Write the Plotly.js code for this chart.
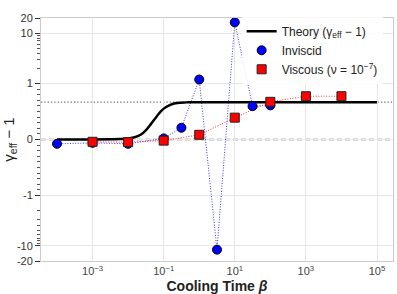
<!DOCTYPE html>
<html>
<head>
<meta charset="utf-8">
<script src="https://cdn.plot.ly/plotly-3.0.1.min.js"></script>
<style>html,body{margin:0;padding:0;background:#fff;}#chart{width:397px;height:294px;}</style>
</head>
<body>
<div id="chart"></div>
<script>
// ---- data ----
const theoryBeta = [1e-4, 1e-3, 3e-3, 0.006, 0.01, 0.016, 0.0225, 0.031, 0.043, 0.06, 0.082, 0.114, 0.176, 0.3, 0.5, 1, 10, 100, 1e3, 1e4, 1e5];
const theoryVal  = [0, 0.001, 0.004, 0.008, 0.02, 0.045, 0.085, 0.16, 0.27, 0.39, 0.50, 0.575, 0.635, 0.658, 0.664, 0.666, 0.667, 0.667, 0.667, 0.667, 0.667];

const inviscidBeta = [1e-4, 1e-3, 1e-2, 1e-1, 0.316, 1, 3.16, 10, 31.6, 100];
const inviscidVal  = [-0.077, -0.06, -0.077, 0.02, 0.21, 1.2, -11.9, 16.4, 0.595, 0.61];

const viscousBeta = [1e-3, 1e-2, 1e-1, 1, 10, 100, 1000, 10000];
const viscousVal  = [-0.041, -0.048, -0.02, 0.084, 0.39, 0.673, 0.773, 0.773];

const asymptote = 0.667;
const yTickValues = [20, 10, 1, 0, -1, -10, -20];
const yTickLabels = ["20", "10", "1", "0", "-1", "-10", "-20"];
const xTickValues = [1e-3, 1e-1, 1e1, 1e3, 1e5];
const xTickLabels = ["10<sup>\u22123</sup>", "10<sup>\u22121</sup>", "10<sup>1</sup>", "10<sup>3</sup>", "10<sup>5</sup>"];

// symlog (linthresh = 1, linscale = 1) like matplotlib
const K = 1 / (1 - 1 / 10);
function symlog(v) {
  const a = Math.abs(v);
  if (a <= 1) return v * K;
  return Math.sign(v) * (K + Math.log10(a));
}
const minorVals = [];
for (let m = 1; m <= 9; m++) { minorVals.push(symlog(m / 10)); minorVals.push(symlog(-m / 10)); }
for (let m = 2; m <= 9; m++) { minorVals.push(symlog(m)); minorVals.push(symlog(-m)); }

const traces = [
  {
    x: inviscidBeta, y: inviscidVal.map(symlog), type: 'scatter', mode: 'lines',
    showlegend: false, hoverinfo: 'skip',
    line: {color: 'rgba(0,0,255,0.8)', width: 1, dash: '1px,1.6px'}
  },
  {
    x: viscousBeta, y: viscousVal.map(symlog), type: 'scatter', mode: 'lines',
    showlegend: false, hoverinfo: 'skip',
    line: {color: 'rgba(255,0,0,0.8)', width: 1, dash: '1px,1.6px'}
  },
  {
    x: theoryBeta, y: theoryVal.map(symlog), type: 'scatter', mode: 'lines',
    name: 'Theory (\u03b3<sub>eff</sub> \u2212 1)',
    line: {color: '#000', width: 2.5, shape: 'spline', smoothing: 1}
  },
  {
    x: inviscidBeta, y: inviscidVal.map(symlog), type: 'scatter', mode: 'markers',
    name: 'Inviscid',
    marker: {symbol: 'circle', size: 9, color: '#0000ff', line: {color: '#000', width: 1}}
  },
  {
    x: viscousBeta, y: viscousVal.map(symlog), type: 'scatter', mode: 'markers',
    name: 'Viscous (\u03bd = 10<sup>\u22127</sup>)',
    marker: {symbol: 'square', size: 9, color: '#ff0000', line: {color: '#222', width: 1}}
  }
];

const yTop = symlog(20);
const layout = {
  width: 397, height: 294,
  margin: {l: 41, r: 4, t: 18, b: 33},
  paper_bgcolor: '#fff', plot_bgcolor: '#fff',
  font: {family: 'Liberation Sans, Arial, sans-serif', size: 11, color: '#333'},
  showlegend: true,
  legend: {
    x: 0.57, y: 1.005, xanchor: 'left', yanchor: 'top',
    bgcolor: 'rgba(255,255,255,0.85)', borderwidth: 0,
    font: {size: 12, color: '#222'}, tracegroupgap: 0
  },
  xaxis: {
    type: 'log', range: [-4.45, 5.45],
    tickmode: 'array', tickvals: xTickValues, ticktext: xTickLabels,
    ticks: '', showgrid: true, gridcolor: '#e6e6e6', gridwidth: 1,
    showline: true, linecolor: '#cccccc', linewidth: 1, mirror: true,
    zeroline: false, tickfont: {size: 11, color: '#444'},
    title: {text: 'Cooling Time <i>\u03b2</i>', font: {size: 14, color: '#222', weight: 'bold'}, standoff: 4}
  },
  yaxis: {
    range: [-yTop, yTop],
    tickmode: 'array', tickvals: yTickValues.map(symlog), ticktext: yTickLabels,
    ticks: 'outside', ticklen: 5, tickwidth: 1, tickcolor: '#333',
    showgrid: true, gridcolor: '#e6e6e6', gridwidth: 1,
    showline: true, linecolor: '#cccccc', linewidth: 1, mirror: true,
    zeroline: false, tickfont: {size: 11, color: '#333'},
    minor: {tickmode: 'array', tickvals: minorVals, ticks: 'outside', ticklen: 3, tickwidth: 1, tickcolor: '#555', showgrid: false},
    title: {text: '\u03b3<sub>eff</sub> \u2212 1', font: {size: 15, color: '#222'}, standoff: 4}
  },
  shapes: [
    {type: 'line', xref: 'paper', x0: 0, x1: 1, yref: 'y', y0: symlog(0), y1: symlog(0),
     line: {color: '#707070', width: 1.3, dash: '5px,3px'}, layer: 'between'},
    {type: 'line', xref: 'paper', x0: 0, x1: 1, yref: 'y', y0: symlog(asymptote), y1: symlog(asymptote),
     line: {color: '#707070', width: 1.3, dash: '1.3px,2px'}, layer: 'between'}
  ]
};

Plotly.newPlot('chart', traces, layout, {displayModeBar: false, staticPlot: true});
</script>
</body>
</html>
